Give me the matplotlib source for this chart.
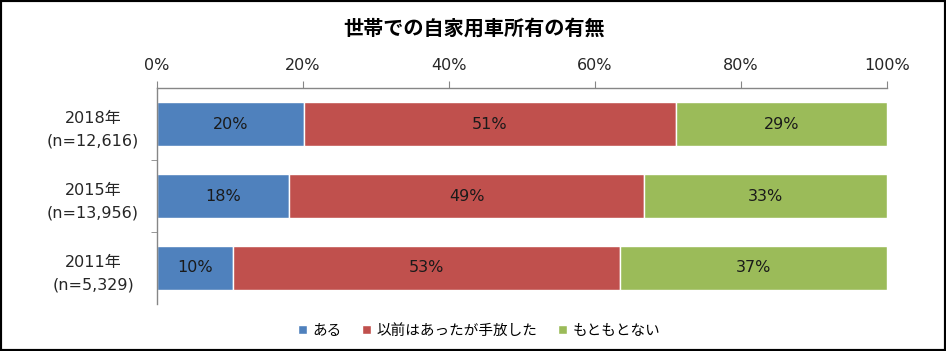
import matplotlib
matplotlib.use("Agg")
import matplotlib.pyplot as plt
from matplotlib.patches import Rectangle
import numpy as np

plt.rcParams['font.family'] = ['DejaVu Sans', 'Noto Sans CJK JP']
CJK = ['Noto Sans CJK JP', 'DejaVu Sans']

categories = ["2018年\n(n=12,616)", "2015年\n(n=13,956)", "2011年\n(n=5,329)"]
series_names = ["ある", "以前はあったが手放した", "もともとない"]
own = [20.1, 18.1, 10.4]
sold = [51.0, 48.6, 53.0]
never = [28.9, 33.3, 36.6]
labels_own = ["20%", "18%", "10%"]
labels_sold = ["51%", "49%", "53%"]
labels_never = ["29%", "33%", "37%"]
colors = ["#4F81BD", "#C0504D", "#9BBB59"]
xticks = [0, 20, 40, 60, 80, 100]

W, H = 946, 351
fig = plt.figure(figsize=(W/100, H/100), dpi=100)
ax = fig.add_axes([157/W, 1-304/H, (887-157)/W, (304-88)/H])

y = np.arange(len(categories))
left = np.zeros(len(categories))
for vals, labs, col, name in zip([own, sold, never], [labels_own, labels_sold, labels_never], colors, series_names):
    vals = np.array(vals)
    bars = ax.barh(y, vals, left=left, height=0.61, color=col, edgecolor='white', linewidth=1, label=name)
    for b, lab in zip(bars, labs):
        ax.text(b.get_x()+b.get_width()/2, b.get_y()+b.get_height()/2, lab,
                ha='center', va='center', fontsize=11.5, color='#1a1a1a')
    left += vals

ax.set_xlim(0, 100)
ax.set_ylim(2.5, -0.5)
ax.xaxis.tick_top()
ax.set_xticks(xticks)
ax.set_xticklabels([f"{t}%" for t in xticks], fontsize=11.5, color='#262626')
ax.tick_params(axis='x', direction='out', length=5, color='#868686', pad=6)
ax.set_yticks(y)
ax.set_yticklabels(categories, fontsize=11.5, color='#262626', linespacing=1.7, ha='center')
ax.tick_params(axis='y', which='major', length=0, pad=46)
ax.set_yticks([0.5, 1.5], minor=True)
ax.tick_params(axis='y', which='minor', length=4, color='#868686', direction='out')
for s in ['right', 'bottom']:
    ax.spines[s].set_visible(False)
for s in ['top', 'left']:
    ax.spines[s].set_color('#868686')
    ax.spines[s].set_linewidth(1)

fig.text(474/W, 1-28/H, "世帯での自家用車所有の有無", ha='center', va='center',
         fontsize=14.5, fontweight='bold', family=CJK)

handles, lbls = ax.get_legend_handles_labels()
leg = fig.legend(handles, lbls, loc='center', bbox_to_anchor=(479/W, 1-331/H), ncol=3,
                 frameon=False, prop={'family': CJK, 'size': 10.5},
                 handlelength=0.6, handleheight=0.6,
                 handletextpad=0.4, columnspacing=1.4)

fig.patches.append(Rectangle((0, 0), 1, 1, transform=fig.transFigure, fill=False,
                             edgecolor='black', linewidth=3, zorder=10))
fig.savefig("out.png", dpi=100)
